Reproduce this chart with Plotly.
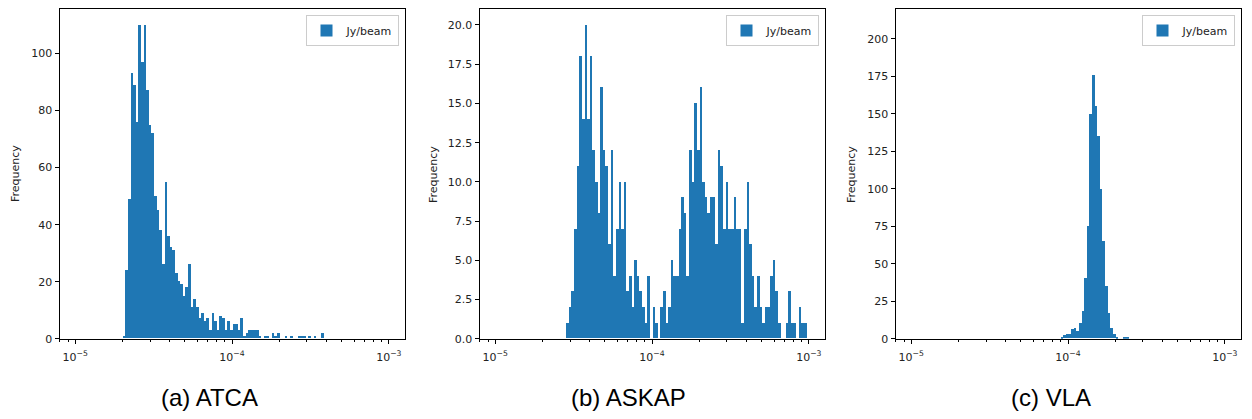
import numpy as np
import plotly.graph_objects as go

# ---------------- data (counts per logarithmic bin, 120 bins from 1e-5 to 1e-3) ----------------
N_BINS = 120
BIN_LO_EXP, BIN_HI_EXP = -5, -3

ATCA_START = 18
ATCA_COUNTS = [1, 24, 49, 93, 89, 76, 110, 97, 110, 87,
               75, 72, 50, 45, 38, 26, 55, 36, 32, 31,
               23, 20, 19, 15, 18, 26, 11, 14, 11, 7,
               9, 6, 7, 3, 9, 6, 3, 8, 7, 3,
               6, 3, 5, 5, 3, 7, 1, 2, 3, 3,
               3, 3, 1, 0, 1, 1, 0, 2, 1, 2,
               0, 0, 1, 0, 1, 0, 0, 1, 1, 1,
               0, 1, 0, 1, 0, 0, 2]

ASKAP_START = 27
ASKAP_COUNTS = [1, 2, 3, 7, 11, 18, 14, 20, 14, 18,
                12, 10, 8, 16, 12, 11, 6, 12, 4, 7,
                10, 7, 10, 3, 4, 2, 5, 4, 3, 2,
                1, 4, 0, 2, 1, 0, 2, 3, 1, 2,
                5, 4, 4, 7, 9, 8, 4, 12, 10, 15,
                12, 16, 10, 9, 8, 9, 9, 6, 12, 11,
                7, 10, 7, 7, 9, 7, 7, 1, 7, 10,
                6, 4, 2, 4, 2, 1, 2, 2, 4, 5,
                3, 1, 0, 0, 1, 3, 1, 1, 0, 2,
                1, 1]

VLA_START = 57
VLA_COUNTS = [1, 2, 3, 3, 6, 7, 5, 10, 18, 40,
              75, 150, 176, 155, 135, 100, 65, 35, 17, 7,
              3, 1, 0, 0, 1, 1]

CAPTIONS = ["(a) ATCA", "(b) ASKAP", "(c) VLA"]
SERIES_NAME = "Jy/beam"
Y_LABEL = "Frequency"

Y_TICKS = [[0, 20, 40, 60, 80, 100],
           [0, 2.5, 5, 7.5, 10, 12.5, 15, 17.5, 20],
           [0, 25, 50, 75, 100, 125, 150, 175, 200]]
Y_TICKTEXT = [["0", "20", "40", "60", "80", "100"],
              ["0.0", "2.5", "5.0", "7.5", "10.0", "12.5", "15.0", "17.5", "20.0"],
              ["0", "25", "50", "75", "100", "125", "150", "175", "200"]]
Y_MAX = [115.5, 21.0, 219.7]

X_TICKVALS = [1e-5, 1e-4, 1e-3]
X_TICKTEXT = ["10<sup>−5</sup>", "10<sup>−4</sup>", "10<sup>−3</sup>"]

# ---------------- geometry (screen pixels; page body has an 8 px margin) ----------------
PAGE_W, PAGE_H = 1252, 419
OFF = 8
W, H = PAGE_W - OFF, PAGE_H - OFF
PANEL_LEFT = [59.5, 479.5, 895.5]
PANEL_W = 345
PANEL_TOP, PANEL_BOTTOM = 8.3, 344.3
YLABEL_X = [15, 433, 851]
CAPTION_X = [210, 628, 1051]
CAPTION_Y = 404


def px(x):
    return (x - OFF) / W


def py(y):
    return 1 - (y - OFF) / H


BLUE = "#1f77b4"
TEXT = "#222222"
MPL_FONT = "DejaVu Sans"

edges = np.logspace(BIN_LO_EXP, BIN_HI_EXP, N_BINS + 1)
minor_vals = [m * 10.0 ** e for e in (-6, -5, -4, -3) for m in range(2, 10)]
minor_vals = [v for v in minor_vals if 10 ** -5.1 <= v <= 10 ** -2.9]

panels = [(ATCA_START, ATCA_COUNTS), (ASKAP_START, ASKAP_COUNTS), (VLA_START, VLA_COUNTS)]

fig = go.Figure()
layout = dict(width=W, height=H, margin=dict(l=0, r=0, t=0, b=0), autosize=False,
              paper_bgcolor="white", plot_bgcolor="white", bargap=0,
              font=dict(family=MPL_FONT, color=TEXT), annotations=[])

ydom = [max(0.0, py(PANEL_BOTTOM)), min(1.0, py(PANEL_TOP))]

for i, (start, counts) in enumerate(panels):
    n = i + 1
    sfx = "" if n == 1 else str(n)
    lo = edges[start:start + len(counts)]
    hi = edges[start + 1:start + 1 + len(counts)]
    centers = (lo + hi) / 2
    widths = hi - lo
    legend_name = "legend" if n == 1 else f"legend{n}"
    fig.add_trace(go.Bar(
        x=centers, y=counts, width=widths, name=SERIES_NAME,
        marker=dict(color=BLUE, line=dict(width=0)),
        xaxis=f"x{sfx}", yaxis=f"y{sfx}", legend=legend_name, showlegend=True,
    ))
    left = PANEL_LEFT[i]
    layout[f"xaxis{sfx}"] = dict(
        domain=[px(left), min(1.0, px(left + PANEL_W))], anchor=f"y{sfx}",
        type="log", range=[-5.1, -2.9],
        tickvals=X_TICKVALS, ticktext=X_TICKTEXT,
        ticks="outside", ticklen=4, tickwidth=1, tickcolor="#000",
        ticklabelstandoff=4,
        minor=dict(tickvals=minor_vals, ticks="outside", ticklen=2, tickwidth=0.8, tickcolor="#000"),
        showline=True, mirror=True, linecolor="#000", linewidth=1,
        showgrid=False, zeroline=False,
        tickfont=dict(family=MPL_FONT, size=11, color=TEXT),
    )
    layout[f"yaxis{sfx}"] = dict(
        domain=ydom, anchor=f"x{sfx}", range=[0, Y_MAX[i]],
        tickvals=Y_TICKS[i], ticktext=Y_TICKTEXT[i],
        ticks="outside", ticklen=4, tickwidth=1, tickcolor="#000",
        showline=True, mirror=True, linecolor="#000", linewidth=1,
        showgrid=False, zeroline=False,
        tickfont=dict(family=MPL_FONT, size=11, color=TEXT),
    )
    layout[legend_name] = dict(
        x=px(left + PANEL_W - 6), y=py(14), xanchor="right", yanchor="top",
        bgcolor="rgba(255,255,255,0.85)", bordercolor="#cccccc", borderwidth=1,
        font=dict(family=MPL_FONT, size=11, color=TEXT),
        itemclick=False, itemdoubleclick=False, itemwidth=30,
    )
    layout["annotations"].append(dict(
        text=Y_LABEL, textangle=-90, x=px(YLABEL_X[i]), y=py((PANEL_TOP + PANEL_BOTTOM) / 2),
        xref="paper", yref="paper", xanchor="center", yanchor="middle", showarrow=False,
        font=dict(family=MPL_FONT, size=11, color=TEXT),
    ))
    layout["annotations"].append(dict(
        text=CAPTIONS[i], x=px(CAPTION_X[i]), y=py(CAPTION_Y),
        xref="paper", yref="paper", xanchor="center", yanchor="middle", showarrow=False,
        font=dict(family="Liberation Sans", size=24, color="#000"),
    ))

fig.update_layout(**layout)
fig.write_html("out.html")
